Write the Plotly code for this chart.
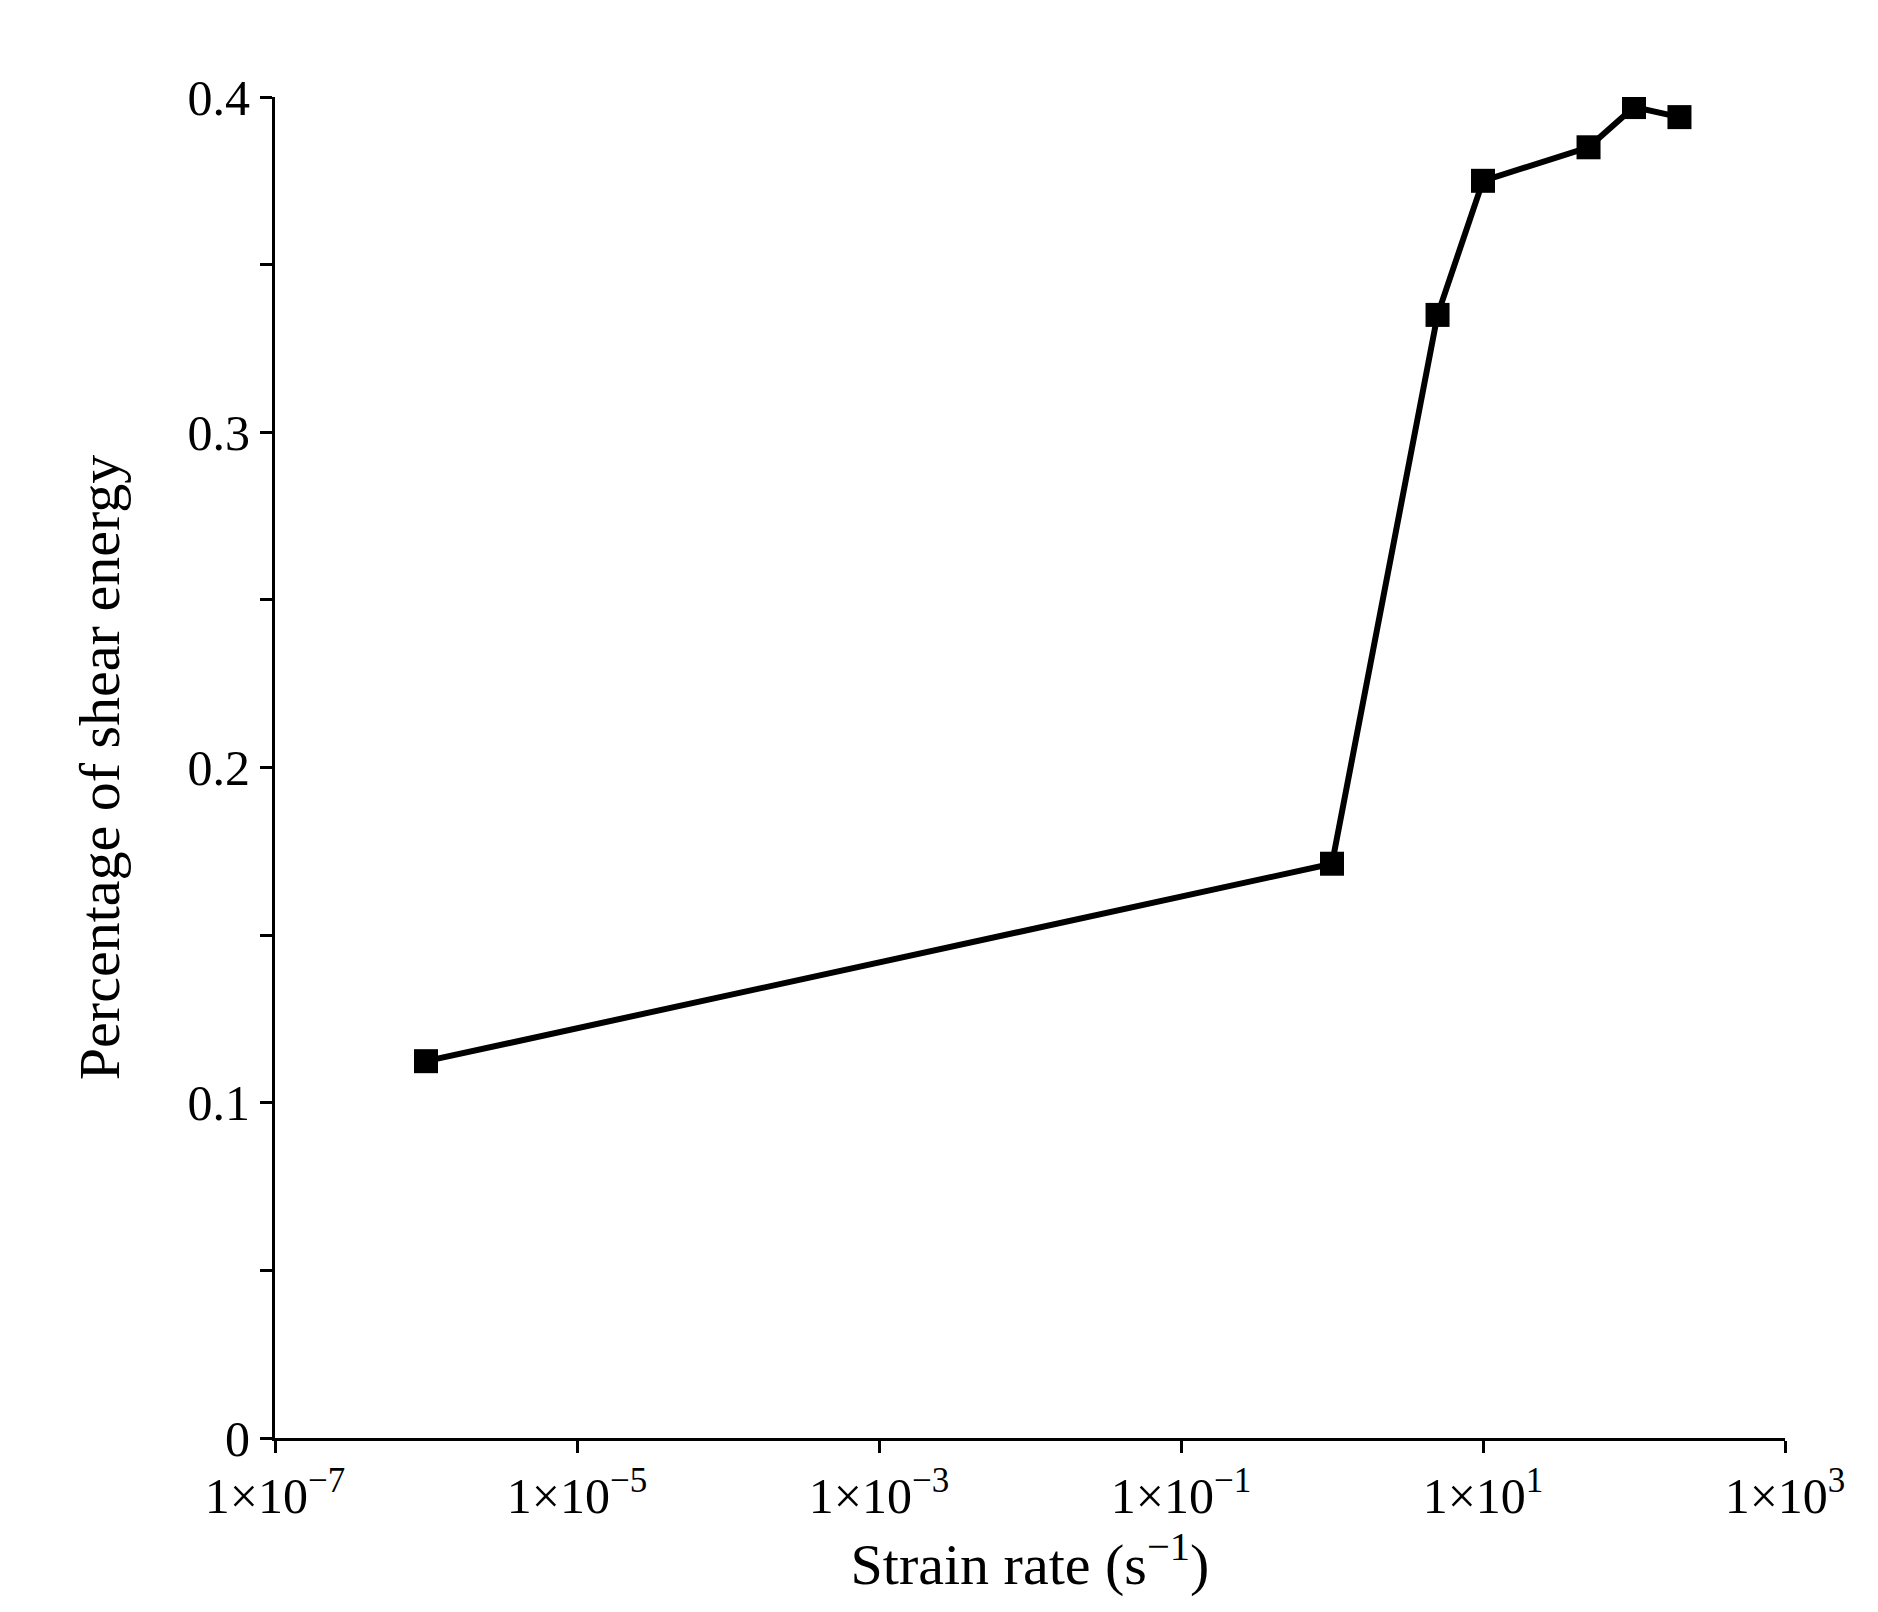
import plotly.graph_objects as go

# data
strain_rate = [1e-6, 1, 5, 10, 50, 100, 200]
shear_energy = [0.1124, 0.1713, 0.335, 0.375, 0.385, 0.397, 0.394]

x_tickvals = [1e-7, 1e-5, 1e-3, 1e-1, 1e1, 1e3]
x_ticktext = ["1×10<sup>−7</sup>", "1×10<sup>−5</sup>", "1×10<sup>−3</sup>",
              "1×10<sup>−1</sup>", "1×10<sup>1</sup>", "1×10<sup>3</sup>"]
y_tickvals = [0, 0.05, 0.1, 0.15, 0.2, 0.25, 0.3, 0.35, 0.4]
y_ticktext = ["0", "", "0.1", "", "0.2", "", "0.3", "", "0.4"]

fig = go.Figure(go.Scatter(
    x=strain_rate, y=shear_energy, mode="lines+markers",
    line=dict(color="black", width=6),
    marker=dict(symbol="square", size=24, color="black"),
    showlegend=False,
))

fig.update_layout(
    width=1878, height=1612,
    paper_bgcolor="white", plot_bgcolor="white",
    margin=dict(l=267, r=101, t=89, b=182),
    font=dict(family="Liberation Serif", size=50, color="black"),
)
fig.update_xaxes(
    type="log", range=[-7, 3], tickvals=x_tickvals, ticktext=x_ticktext,
    showline=True, linecolor="black", linewidth=3, showgrid=False, zeroline=False,
    ticks="outside", ticklen=12, tickwidth=3, tickcolor="black",
    title=dict(text="Strain rate (s<sup>−1</sup>)", font=dict(size=58), standoff=5),
)
fig.update_yaxes(
    range=[0, 0.4], tickvals=y_tickvals, ticktext=y_ticktext,
    showline=True, linecolor="black", linewidth=3, showgrid=False, zeroline=False,
    ticks="outside", ticklen=12, tickwidth=3, tickcolor="black",
    title=dict(text="Percentage of shear energy", font=dict(size=58), standoff=50),
)

fig.write_html("out.html")
